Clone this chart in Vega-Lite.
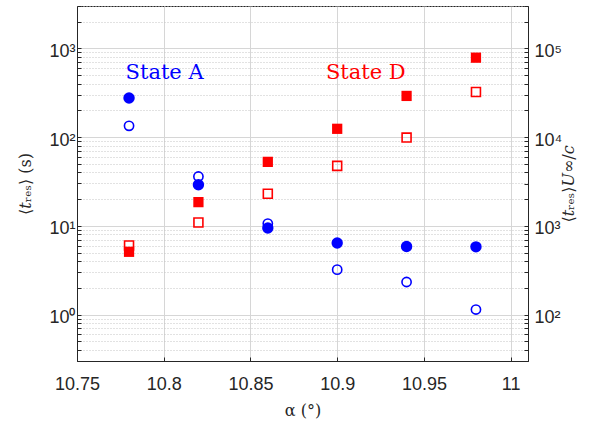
{
  "$schema": "https://vega.github.io/schema/vega-lite/v6.json",
  "width": 451,
  "height": 355,
  "autosize": "none",
  "padding": {"left": 77, "top": 6, "right": 66, "bottom": 60},
  "background": "white",
  "config": {
    "view": {"stroke": "#262626", "strokeWidth": 1},
    "font": "Liberation Sans",
    "axis": {
      "domainColor": "#262626",
      "tickColor": "#262626",
      "labelColor": "#262626",
      "titleColor": "#262626",
      "labelFont": "Liberation Sans",
      "labelFontSize": 18,
      "titleFont": "DejaVu Serif",
      "titleFontSize": 16,
      "titleFontWeight": "normal"
    }
  },
  "datasets": {
    "pts": [
      {"alpha": 10.78, "value": 276, "state": "A", "kind": "tres"},
      {"alpha": 10.82, "value": 29, "state": "A", "kind": "tres"},
      {"alpha": 10.86, "value": 9.45, "state": "A", "kind": "tres"},
      {"alpha": 10.90, "value": 6.4, "state": "A", "kind": "tres"},
      {"alpha": 10.94, "value": 5.85, "state": "A", "kind": "tres"},
      {"alpha": 10.98, "value": 5.8, "state": "A", "kind": "tres"},
      {"alpha": 10.78, "value": 5.1, "state": "D", "kind": "tres"},
      {"alpha": 10.82, "value": 18.5, "state": "D", "kind": "tres"},
      {"alpha": 10.86, "value": 52.6, "state": "D", "kind": "tres"},
      {"alpha": 10.90, "value": 124, "state": "D", "kind": "tres"},
      {"alpha": 10.94, "value": 291, "state": "D", "kind": "tres"},
      {"alpha": 10.98, "value": 785, "state": "D", "kind": "tres"},
      {"alpha": 10.78, "value": 13400, "state": "A", "kind": "tresUc"},
      {"alpha": 10.82, "value": 3600, "state": "A", "kind": "tresUc"},
      {"alpha": 10.86, "value": 1060, "state": "A", "kind": "tresUc"},
      {"alpha": 10.90, "value": 321, "state": "A", "kind": "tresUc"},
      {"alpha": 10.94, "value": 233, "state": "A", "kind": "tresUc"},
      {"alpha": 10.98, "value": 114, "state": "A", "kind": "tresUc"},
      {"alpha": 10.78, "value": 600, "state": "D", "kind": "tresUc"},
      {"alpha": 10.82, "value": 1090, "state": "D", "kind": "tresUc"},
      {"alpha": 10.86, "value": 2300, "state": "D", "kind": "tresUc"},
      {"alpha": 10.90, "value": 4740, "state": "D", "kind": "tresUc"},
      {"alpha": 10.94, "value": 9870, "state": "D", "kind": "tresUc"},
      {"alpha": 10.98, "value": 32200, "state": "D", "kind": "tresUc"}
    ],
    "labels": [
      {"alpha": 10.778, "value": 527, "text": "State A", "state": "A"},
      {"alpha": 10.8935, "value": 527, "text": "State D", "state": "D"}
    ]
  },
  "encoding": {
    "x": {
      "field": "alpha",
      "type": "quantitative",
      "scale": {"domain": [10.75, 11.01], "nice": false, "zero": false},
      "axis": {
        "values": [10.75, 10.8, 10.85, 10.9, 10.95, 11],
        "format": "~g",
        "title": "α (°)",
        "grid": true,
        "gridColor": "#d6d6d6",
        "tickSize": -4,
        "labelPadding": 18,
        "titlePadding": 9,
        "labelFlush": false
      }
    }
  },
  "layer": [
    {
      "data": {"name": "pts"},
      "transform": [{"filter": "datum.kind === 'tresUc'"}],
      "encoding": {
        "y": {
          "field": "value",
          "type": "quantitative",
          "scale": {"type": "log", "domain": [30, 300000], "nice": false},
          "axis": {
            "orient": "right",
            "values": [30, 40, 50, 60, 70, 80, 90, 100, 200, 300, 400, 500, 600, 700, 800, 900, 1000, 2000, 3000, 4000, 5000, 6000, 7000, 8000, 9000, 10000, 20000, 30000, 40000, 50000, 60000, 70000, 80000, 90000, 100000, 200000, 300000],
            "labelExpr": "abs(log(datum.value)/LN10 - round(log(datum.value)/LN10)) < 0.001 ? '10' + substring('⁰¹²³⁴⁵⁶', round(log(datum.value)/LN10), round(log(datum.value)/LN10) + 1) : ''",
            "grid": false,
            "tickSize": -4,
            "labelPadding": 10,
            "labelOffset": 3,
            "title": "⟨𝑡ᵣₑₛ⟩𝑈∞/𝑐",
            "titleAngle": -90,
            "titlePadding": 15
          }
        }
      },
      "layer": [
        {
          "transform": [{"filter": "datum.state === 'A'"}],
          "mark": {"type": "point", "shape": "circle", "filled": false, "color": "#0000ff", "size": 85, "strokeWidth": 1.6, "opacity": 1}
        },
        {
          "transform": [{"filter": "datum.state === 'D'"}],
          "mark": {"type": "point", "shape": "square", "filled": false, "color": "#ff0000", "size": 80, "strokeWidth": 1.6, "opacity": 1}
        }
      ]
    },
    {
      "encoding": {
        "y": {
          "field": "value",
          "type": "quantitative",
          "scale": {"type": "log", "domain": [0.3, 3000], "nice": false},
          "axis": {
            "orient": "left",
            "values": [0.3, 0.4, 0.5, 0.6, 0.7, 0.8, 0.9, 1, 2, 3, 4, 5, 6, 7, 8, 9, 10, 20, 30, 40, 50, 60, 70, 80, 90, 100, 200, 300, 400, 500, 600, 700, 800, 900, 1000, 2000, 3000],
            "labelExpr": "abs(log(datum.value)/LN10 - round(log(datum.value)/LN10)) < 0.001 ? '10' + substring('⁰¹²³⁴⁵⁶', round(log(datum.value)/LN10), round(log(datum.value)/LN10) + 1) : ''",
            "grid": true,
            "gridColor": {"condition": {"test": "abs(log(datum.value)/LN10 - round(log(datum.value)/LN10)) < 0.001", "value": "#d6d6d6"}, "value": "#c4c4c4"},
            "gridDash": {"condition": {"test": "abs(log(datum.value)/LN10 - round(log(datum.value)/LN10)) < 0.001", "value": []}, "value": [1, 2]},
            "tickSize": -4,
            "labelPadding": 6,
            "labelOffset": 3,
            "title": "⟨𝑡ᵣₑₛ⟩ (s)",
            "titlePadding": 15
          }
        }
      },
      "layer": [
        {
          "data": {"name": "pts"},
          "transform": [{"filter": "datum.kind === 'tres' && datum.state === 'A'"}],
          "mark": {"type": "point", "shape": "circle", "filled": true, "color": "#0000ff", "size": 130, "opacity": 1}
        },
        {
          "data": {"name": "pts"},
          "transform": [{"filter": "datum.kind === 'tres' && datum.state === 'D'"}],
          "mark": {"type": "point", "shape": "square", "filled": true, "color": "#ff0000", "size": 105, "opacity": 1}
        },
        {
          "data": {"name": "labels"},
          "mark": {"type": "text", "align": "left", "baseline": "middle", "font": "DejaVu Serif", "fontSize": 21},
          "encoding": {
            "text": {"field": "text"},
            "color": {"field": "state", "type": "nominal", "scale": {"domain": ["A", "D"], "range": ["#0000ff", "#ff0000"]}, "legend": null}
          }
        }
      ]
    }
  ],
  "resolve": {"scale": {"y": "independent"}, "axis": {"y": "independent"}}
}
